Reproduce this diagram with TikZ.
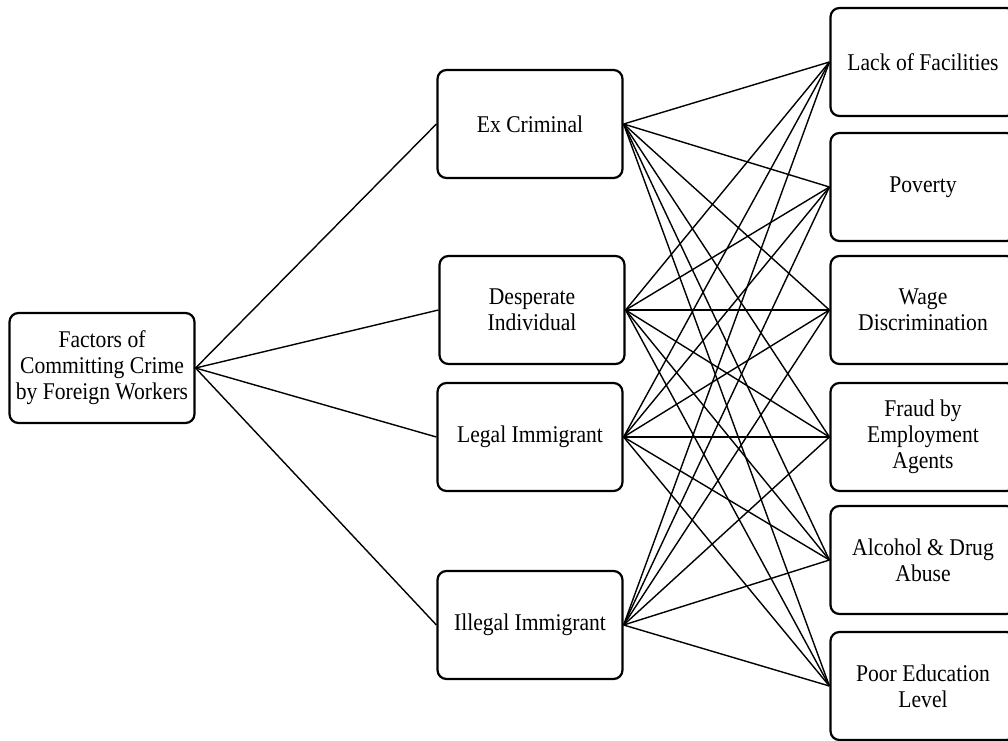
\documentclass[tikz,border=0pt]{standalone}
\usepackage{fontspec}
\setmainfont{Liberation Serif}[FakeStretch=0.9]
\usepackage{tikz}

\begin{document}
\begin{tikzpicture}[x=1pt,y=-1pt,
    box/.style={draw,line width=2.2pt,rounded corners=9pt,minimum width=185pt,
      minimum height=108pt,inner sep=0pt,align=center,
      font=\fontsize{24}{26}\selectfont},
    link/.style={line width=1.4pt}]
      \useasboundingbox (0,0) rectangle (1008,740);
      \clip (0,0) rectangle (1008,740);
      % root
      \node[box,minimum height=110pt] (factors) at (102,368) {Factors of\\Committing Crime\\by Foreign Workers};
      % types of workers
      \node[box] (excrim)  at (530,124) {Ex Criminal};
      \node[box] (desp)    at (532,310) {Desperate\\Individual};
      \node[box] (legal)   at (530,437) {Legal Immigrant};
      \node[box] (illegal) at (530,625) {Illegal Immigrant};
      % causes
      \node[box] (lack)    at (923,62)  {Lack of Facilities};
      \node[box] (poverty) at (923,187) {Poverty};
      \node[box] (wage)    at (923,310) {Wage\\Discrimination};
      \node[box] (fraud)   at (923,437) {Fraud by\\Employment\\Agents};
      \node[box] (alcohol) at (923,560) {Alcohol \& Drug\\Abuse};
      \node[box] (poored)  at (923,686) {Poor Education\\Level};
      % links
      \foreach \m in {excrim,desp,legal,illegal}
        \draw[link] (factors.east) -- (\m.west);
      \foreach \m in {excrim,desp,legal,illegal}
        \foreach \c in {lack,poverty,wage,fraud,alcohol,poored}
          \draw[link] (\m.east) -- (\c.west);
\end{tikzpicture}
\end{document}
